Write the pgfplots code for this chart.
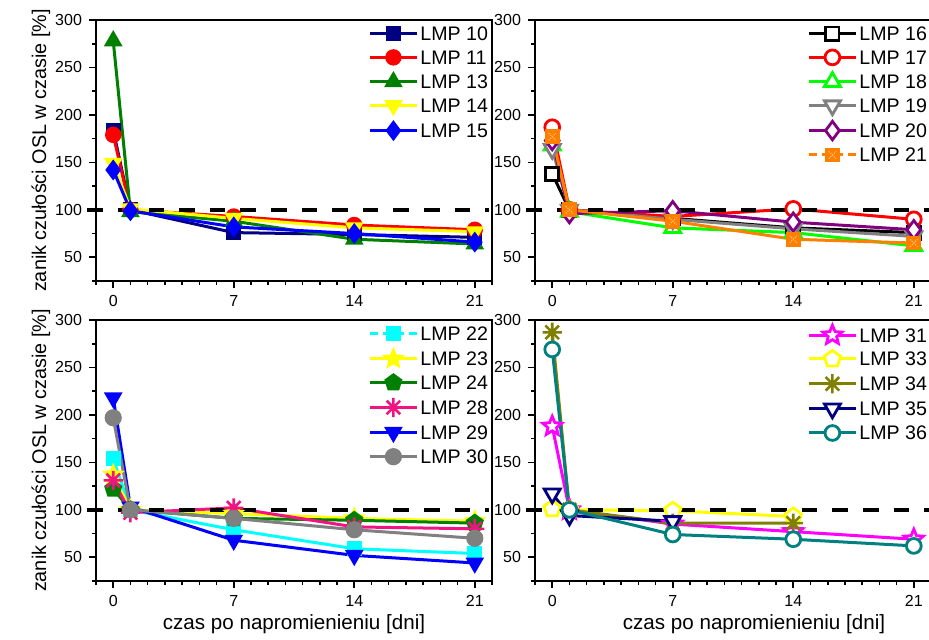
\documentclass[border=0pt]{standalone}
\usepackage{fontspec}
\setmainfont{Liberation Sans}
\usepackage{pgfplots}
\pgfplotsset{compat=1.18}
\usetikzlibrary{plotmarks}

\definecolor{cNavy}{RGB}{0,0,128}
\definecolor{cRed}{RGB}{255,0,0}
\definecolor{cGreen}{RGB}{0,128,0}
\definecolor{cYellow}{RGB}{255,255,0}
\definecolor{cBlue}{RGB}{0,0,255}
\definecolor{cLime}{RGB}{0,255,0}
\definecolor{cGrey}{RGB}{128,128,128}
\definecolor{cPurple}{RGB}{128,0,128}
\definecolor{cOrange}{RGB}{255,128,0}
\definecolor{cOrangeL}{RGB}{255,200,140}
\definecolor{cCyan}{RGB}{0,255,255}
\definecolor{cPink}{RGB}{240,20,130}
\definecolor{cMagenta}{RGB}{255,0,255}
\definecolor{cOlive}{RGB}{128,128,0}
\definecolor{cTeal}{RGB}{0,128,128}

\pgfdeclareplotmark{fstar}{%
  \pgfpathmoveto{\pgfpointpolar{90}{\pgfplotmarksize}}%
  \pgfpathlineto{\pgfpointpolar{126}{0.45\pgfplotmarksize}}%
  \pgfpathlineto{\pgfpointpolar{162}{\pgfplotmarksize}}%
  \pgfpathlineto{\pgfpointpolar{198}{0.45\pgfplotmarksize}}%
  \pgfpathlineto{\pgfpointpolar{234}{\pgfplotmarksize}}%
  \pgfpathlineto{\pgfpointpolar{270}{0.45\pgfplotmarksize}}%
  \pgfpathlineto{\pgfpointpolar{306}{\pgfplotmarksize}}%
  \pgfpathlineto{\pgfpointpolar{342}{0.45\pgfplotmarksize}}%
  \pgfpathlineto{\pgfpointpolar{18}{\pgfplotmarksize}}%
  \pgfpathlineto{\pgfpointpolar{54}{0.45\pgfplotmarksize}}%
  \pgfpathclose
  \pgfusepathqfillstroke}
\pgfdeclareplotmark{ast8}{%
  \pgfpathmoveto{\pgfqpoint{0pt}{\pgfplotmarksize}}%
  \pgfpathlineto{\pgfqpoint{0pt}{-\pgfplotmarksize}}%
  \pgfpathmoveto{\pgfqpoint{\pgfplotmarksize}{0pt}}%
  \pgfpathlineto{\pgfqpoint{-\pgfplotmarksize}{0pt}}%
  \pgfpathmoveto{\pgfpointpolar{45}{\pgfplotmarksize}}%
  \pgfpathlineto{\pgfpointpolar{225}{\pgfplotmarksize}}%
  \pgfpathmoveto{\pgfpointpolar{135}{\pgfplotmarksize}}%
  \pgfpathlineto{\pgfpointpolar{315}{\pgfplotmarksize}}%
  \pgfusepathqstroke}
% inverted filled triangle
\pgfdeclareplotmark{dtri}{%
  \pgfpathmoveto{\pgfpointpolar{270}{\pgfplotmarksize}}%
  \pgfpathlineto{\pgfpointpolar{30}{\pgfplotmarksize}}%
  \pgfpathlineto{\pgfpointpolar{150}{\pgfplotmarksize}}%
  \pgfpathclose
  \pgfusepathqfillstroke}
% orange square with dotted cross
\pgfdeclareplotmark{xsq}{%
  \pgfpathrectangle{\pgfqpoint{-\pgfplotmarksize}{-\pgfplotmarksize}}{\pgfqpoint{2\pgfplotmarksize}{2\pgfplotmarksize}}%
  \pgfusepathqfillstroke
  \begin{pgfscope}%
  \pgfsetstrokecolor{cOrangeL}\pgfsetlinewidth{0.5pt}\pgfsetdash{{0.6pt}{0.6pt}}{0pt}%
  \pgfpathmoveto{\pgfqpoint{-0.55\pgfplotmarksize}{-0.55\pgfplotmarksize}}%
  \pgfpathlineto{\pgfqpoint{0.55\pgfplotmarksize}{0.55\pgfplotmarksize}}%
  \pgfpathmoveto{\pgfqpoint{-0.55\pgfplotmarksize}{0.55\pgfplotmarksize}}%
  \pgfpathlineto{\pgfqpoint{0.55\pgfplotmarksize}{-0.55\pgfplotmarksize}}%
  \pgfusepathqstroke
  \end{pgfscope}}

\pgfplotsset{
  panel/.style={
    width=198pt, height=130.5pt, scale only axis,
    xmin=-1, xmax=22, ymin=25, ymax=300,
    xtick={0,7,14,21}, minor xtick={-1,0,...,22},
    ytick={50,100,...,300}, minor ytick={25,75,...,275},
    xtick pos=left, ytick pos=left, tick align=outside,
    major tick length=3.5pt, minor tick length=2pt,
    axis line style={line width=0.9pt},
    every tick/.style={black, line width=0.8pt},
    /pgf/number format/assume math mode=true,
    tick label style={font=\fontsize{8}{9}\selectfont},
    ylabel style={font=\fontsize{9.9}{11}\selectfont},
    xlabel style={font=\fontsize{10.3}{11}\selectfont},
    clip=false,
    legend cell align=left,
    legend style={draw=none, fill=none, at={(1.01,0.997)}, anchor=north east,
      font=\fontsize{9.8}{11}\selectfont, row sep=3.35pt,
      nodes={inner sep=0.8pt, text height=6.9pt, text depth=0pt}},
    legend image code/.code={\draw[mark repeat=2,mark phase=2,##1] plot coordinates {(0cm,0cm) (0.42cm,0cm) (0.84cm,0cm)};},
  },
  fl/.style={draw=#1, line width=1.5pt, mark options={solid, draw=#1, fill=#1, line width=0.8pt}},
  op/.style={draw=#1, line width=1.5pt, mark options={solid, draw=#1, fill=white, line width=1.4pt}},
  ref/.style={black, line width=1.9pt, dash pattern=on 7.8pt off 7.5pt, forget plot},
}

\begin{document}
\begin{tikzpicture}
% ---------------- top left
\begin{axis}[panel, at={(48pt,179pt)}, anchor=south west,
  ylabel={zanik czułości OSL w czasie [\%]},
  ylabel style={at={(axis description cs:-0.139,0.5)}, anchor=center}]
\addplot[fl=cNavy, mark=square*, mark size=3.3pt] coordinates {(0,184)(1,100)(7,76)(14,74)(21,71)};
\addlegendentry{LMP 10}
\addplot[fl=cRed, mark=*, mark size=3.7pt] coordinates {(0,179)(1,100)(7,93)(14,84)(21,79)};
\addlegendentry{LMP 11}
\addplot[fl=cGreen, mark=triangle*, mark size=4.6pt] coordinates {(0,278)(1,98)(7,88)(14,69)(21,64)};
\addlegendentry{LMP 13}
\addplot[fl=cYellow, mark=dtri, mark size=4.6pt] coordinates {(0,149)(1,101)(7,91)(14,81)(21,77)};
\addlegendentry{LMP 14}
\addplot[fl=cBlue, mark=diamond*, mark size=4.6pt] coordinates {(0,142)(1,99)(7,82)(14,75)(21,66)};
\addlegendentry{LMP 15}
\addplot[ref] coordinates {(-1.5,100)(21.8,100)};
\end{axis}
% ---------------- top right
\begin{axis}[panel, at={(267.5pt,179pt)}, anchor=south west]
\addplot[op=black, mark=square*, mark size=3.3pt] coordinates {(0,138)(1,100)(7,91)(14,81)(21,76)};
\addlegendentry{LMP 16}
\addplot[op=cRed, mark=*, mark size=3.7pt] coordinates {(0,187)(1,100)(7,93)(14,101)(21,90)};
\addlegendentry{LMP 17}
\addplot[op=cLime, mark=triangle*, mark size=4.6pt] coordinates {(0,168)(1,98)(7,81)(14,76)(21,62)};
\addlegendentry{LMP 18}
\addplot[op=cGrey, mark=dtri, mark size=4.6pt] coordinates {(0,164)(1,100)(7,90)(14,80)(21,72)};
\addlegendentry{LMP 19}
\addplot[op=cPurple, mark=diamond*, mark size=4.6pt] coordinates {(0,173)(1,96)(7,99)(14,87)(21,79)};
\addlegendentry{LMP 20}
\addplot[fl=cOrange, mark=xsq, mark size=3.3pt, legend image post style={dash pattern=on 4pt off 2.5pt}] coordinates {(0,177)(1,100)(7,88)(14,69)(21,65)};
\addlegendentry{LMP 21}
\addplot[ref] coordinates {(-1.5,100)(22,100)};
\end{axis}
% ---------------- bottom left
\begin{axis}[panel, at={(48pt,29pt)}, anchor=south west,
  ylabel={zanik czułości OSL w czasie [\%]},
  ylabel style={at={(axis description cs:-0.139,0.5)}, anchor=center},
  xlabel={czas po napromienieniu [dni]},
  xlabel style={at={(axis description cs:0.5,-0.165)}, anchor=center}]
\addplot[fl=cCyan, mark=square*, mark size=3.3pt, legend image post style={dash pattern=on 4pt off 2.5pt}] coordinates {(0,154)(1,100)(7,79)(14,59)(21,54)};
\addlegendentry{LMP 22}
\addplot[fl=cYellow, mark=fstar, mark size=5pt] coordinates {(0,137)(1,100)(7,96)(14,91)(21,88)};
\addlegendentry{LMP 23}
\addplot[fl=cGreen, mark=pentagon*, mark size=4.3pt] coordinates {(0,122)(1,100)(7,91)(14,89)(21,86)};
\addlegendentry{LMP 24}
\addplot[draw=cPink, line width=1.5pt, mark=ast8, mark size=4.8pt, mark options={solid, draw=cPink, line width=1.3pt}] coordinates {(0,131)(1,97)(7,102)(14,82)(21,80)};
\addlegendentry{LMP 28}
\addplot[fl=cBlue, mark=dtri, mark size=4.6pt] coordinates {(0,218)(1,103)(7,68)(14,52)(21,44)};
\addlegendentry{LMP 29}
\addplot[fl=cGrey, mark=*, mark size=3.9pt] coordinates {(0,197)(1,100)(7,91)(14,79)(21,70)};
\addlegendentry{LMP 30}
\addplot[ref] coordinates {(-1.5,100)(21.8,100)};
\end{axis}
% ---------------- bottom right
\begin{axis}[panel, at={(267.5pt,29pt)}, anchor=south west,
  xlabel={czas po napromienieniu [dni]},
  xlabel style={at={(axis description cs:0.553,-0.165)}, anchor=center}]
\addplot[op=cMagenta, mark=fstar, mark size=5pt] coordinates {(0,188)(1,100)(7,85)(14,77)(21,69)};
\addlegendentry{LMP 31}
\addplot[op=cYellow, mark=pentagon*, mark size=4.3pt] coordinates {(0,101)(1,100)(7,99)(14,93)};
\addlegendentry{LMP 33}
\addplot[draw=cOlive, line width=1.5pt, mark=ast8, mark size=4.8pt, mark options={solid, draw=cOlive, line width=1.3pt}] coordinates {(0,287)(1,100)(7,86)(14,86)};
\addlegendentry{LMP 34}
\addplot[op=cNavy, mark=dtri, mark size=4.6pt] coordinates {(0,117)(1,94)(7,88)};
\addlegendentry{LMP 35}
\addplot[op=cTeal, mark=*, mark size=3.7pt] coordinates {(0,269)(1,100)(7,74)(14,69)(21,62)};
\addlegendentry{LMP 36}
\addplot[ref] coordinates {(-1.5,100)(22,100)};
\end{axis}
\pgfresetboundingbox
\path (0,0) rectangle (464.5pt,319.5pt);
\end{tikzpicture}
\end{document}
